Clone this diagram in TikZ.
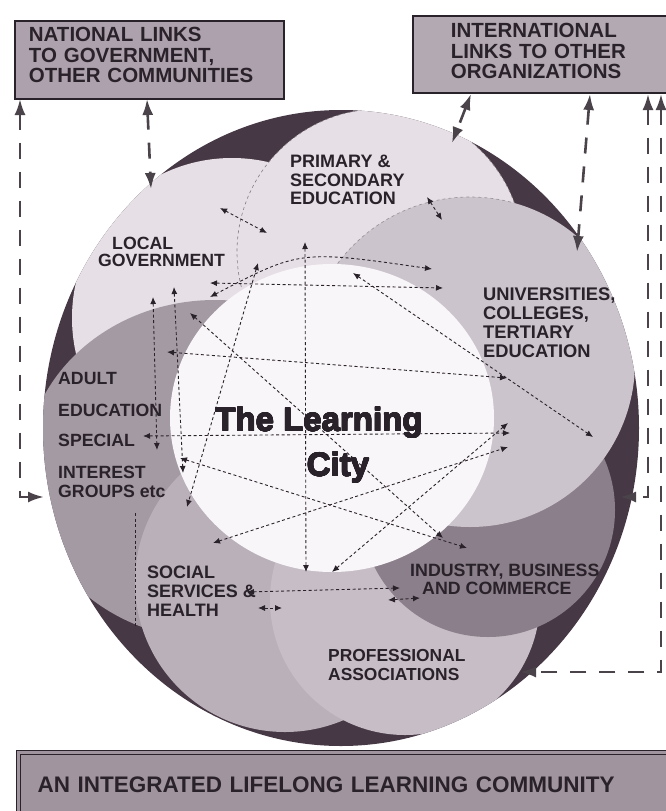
\documentclass[tikz,border=0pt]{standalone}
\usepackage{fontspec}
\setmainfont{Liberation Sans}
\usepackage{tikz}
\usetikzlibrary{arrows.meta}
\usepackage{contour}
\contourlength{0.45pt}

\definecolor{rim}{HTML}{463844}
\definecolor{pale}{HTML}{E6E0E6}
\definecolor{uni}{HTML}{CCC4CC}
\definecolor{adult}{HTML}{A49AA4}
\definecolor{social}{HTML}{B9B0B9}
\definecolor{prof}{HTML}{C6BDC6}
\definecolor{ind}{HTML}{8A7F8A}
\definecolor{hub}{HTML}{F8F6F8}
\definecolor{ink}{HTML}{2A222A}
\definecolor{natfill}{HTML}{ADA1AD}
\definecolor{intfill}{HTML}{B3A9B3}
\definecolor{basefill}{HTML}{A0949F}

\newcommand{\sz}[2]{\fontsize{#1}{#2}\selectfont}

\begin{document}
\begin{tikzpicture}[x=1pt, y=-1pt,
    banner/.style={draw=ink, line width=1.8pt, anchor=north west, align=left, inner ysep=0pt, text=ink},
    tag/.style={anchor=north west, align=left, inner sep=0pt, text=ink},
    link/.style={draw=ink, line width=0.9pt, dash pattern=on 3pt off 2.5pt,
        {Latex[length=7pt,width=6pt]}-{Latex[length=7pt,width=6pt]}},
    farlink/.style={draw=ink!85, line width=2.6pt, dash pattern=on 16pt off 13pt,
        {Latex[length=16pt,width=11pt]}-{Latex[length=16pt,width=11pt]}}]
    \useasboundingbox (0,0) rectangle (665,811);

    % the community and its overlapping sectors
    \fill[rim] (341,428) ellipse [x radius=298, y radius=318];
    \begin{scope}
        \clip (341,428) ellipse [x radius=298, y radius=318];
        \fill[pale] (232,318) circle [radius=160];
        \filldraw[pale, draw=ink!60, line width=0.6pt, dash pattern=on 3pt off 3pt] (380,252) circle [radius=143];
        \fill[adult] (215,470) ellipse [x radius=190, y radius=170];
        \fill[social] (285,582) circle [radius=150];
        \fill[prof] (405,600) circle [radius=135];
        \fill[ind] (488,510) circle [radius=127];
        \fill[uni] (470,362) circle [radius=165];
        \begin{scope}
            \clip (380,252) circle [radius=143];
            \draw[ink!50, line width=0.6pt, dash pattern=on 3pt off 3pt] (470,362) circle [radius=165];
        \end{scope}
        \fill[hub] (332,418) ellipse [x radius=162, y radius=154];
    \end{scope}

    % links between the sectors
    \foreach \n/\x/\y in {lgA/220/208, psA/267/233, psB/427/197, unA/442/220, psC/305/242, hubS/306/572,
        lgB/210/283, unB/443/288, lgC/210/297, unC/432/269, arcbend/300/250, adA/167/352, unD/507/378,
        adB/143/436, unE/510/433, psD/258/263, adC/187/507, psE/353/273, unF/593/437, soA/213/543,
        unG/508/447, adD/180/458, inA/467/548, prA/332/572, unH/508/423, lgD/190/313, inB/443/538,
        lgE/153/297, adE/157/450, lgF/174/287, adF/183/473, adG/135/513, soB/135/627, soC/247/592,
        inC/400/588, soD/258/608, prB/282/608, prC/388/600, inD/420/598}
        \coordinate (\n) at (\x,\y);
    \foreach \a/\b in {lgA/psA, psB/unA, psC/hubS, lgB/unB, adA/unD, adB/unE, psD/adC, psE/unF, soA/unG,
        adD/inA, prA/unH, lgD/inB, lgE/adE, lgF/adF, soC/inC, soD/prB, prC/inD}
        \draw[link] (\a) -- (\b);
    \draw[link] (lgC) .. controls (arcbend) .. (unC);
    \draw[link, -] (adG) -- (soB);

    % sector labels
    \node[tag, font=\bfseries\sz{18}{18.5}] (primary) at (290,155) {PRIMARY \&\\SECONDARY\\EDUCATION};
    \node[tag, font=\bfseries\sz{17.7}{17}] (locgov) at (98,237) {\hspace*{14pt}LOCAL\\GOVERNMENT};
    \node[tag, font=\bfseries\sz{18.3}{18.7}] (univ) at (483,288) {UNIVERSITIES,\\COLLEGES,\\TERTIARY\\EDUCATION};
    \node[tag, font=\bfseries\sz{17.7}{19}] (adulted) at (58,372)
        {ADULT\\[13pt]EDUCATION\\[11pt]SPECIAL\\[13pt]INTEREST\\GROUPS etc};
    \node[tag, font=\bfseries\sz{18}{19}] (socserv) at (147,566) {SOCIAL\\SERVICES \&\\HEALTH};
    \node[tag, font=\bfseries\sz{17.8}{18}] (industry) at (410,564) {INDUSTRY, BUSINESS\\\hspace*{12pt}AND COMMERCE};
    \node[tag, font=\bfseries\sz{17.4}{19.5}] (profass) at (328,649) {PROFESSIONAL\\ASSOCIATIONS};
    \node[anchor=north, align=center, inner sep=0pt, text=ink, font=\bfseries\sz{33}{45}] (city) at (319,407)
        {\contour{ink}{The Learning}\\\hspace*{38pt}\contour{ink}{City}};

    % outside links and the frame around it all
    \node[banner, fill=natfill, font=\bfseries\sz{20.5}{20.5}, inner xsep=14pt, text width=241pt,
        text height=21pt, text depth=57pt] (natbox) at (14,20) {NATIONAL LINKS\\TO GOVERNMENT,\\OTHER COMMUNITIES};
    \node[banner, fill=intfill, font=\bfseries\sz{20.5}{20.5}, inner xsep=38pt, text width=180pt,
        text height=22pt, text depth=55pt] (intbox) at (412,15) {INTERNATIONAL\\LINKS TO OTHER\\ORGANIZATIONS};
    \node[banner, fill=basefill, line width=1.2pt, double=basefill, double distance=3pt,
        font=\bfseries\sz{22.5}{22.5}, inner xsep=19pt, text width=620pt,
        text height=40pt, text depth=28pt] (basebox) at (18,752) {AN INTEGRATED LIFELONG LEARNING COMMUNITY};

    \foreach \n/\x/\y in {natL/20/99, advL/44/497, natR/147/99, lgTop/151/189, intA/471/94, psTop/452/143,
        intB/590/94, unTop/577/252, intC/648/94, unRim/620/497, intD/661/94, prRim/520/672}
        \coordinate (\n) at (\x,\y);
    \draw[farlink] (natL) |- (advL);
    \draw[farlink] (natR) -- (lgTop);
    \draw[farlink] (intA) -- (psTop);
    \draw[farlink] (intB) -- (unTop);
    \draw[farlink] (intC) |- (unRim);
    \draw[farlink] (intD) |- (prRim);
\end{tikzpicture}
\end{document}
